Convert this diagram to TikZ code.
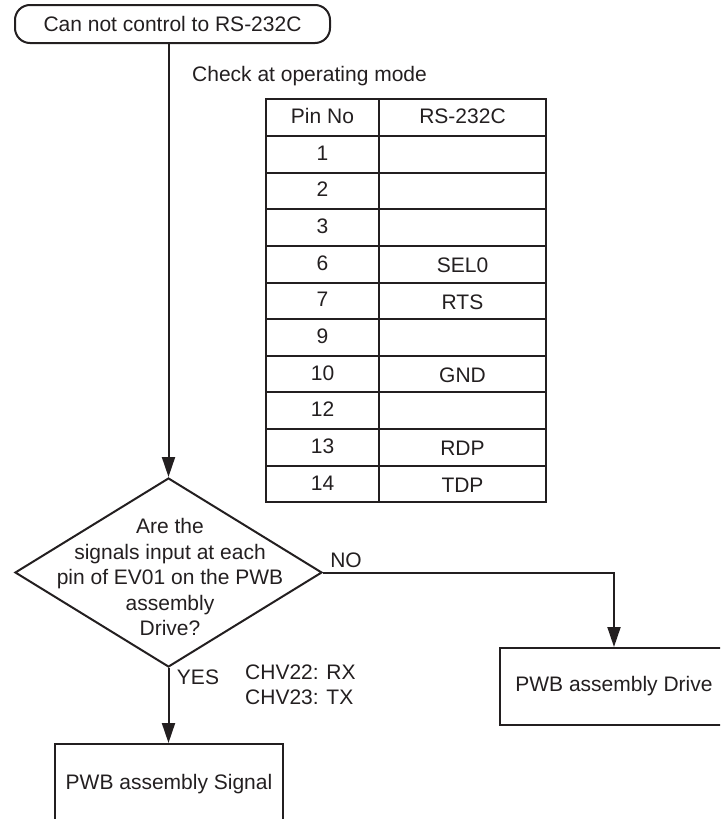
\documentclass[tikz,border=0pt]{standalone}
\usepackage{fontspec}
\setmainfont{Liberation Sans}
\usetikzlibrary{shapes.geometric,arrows.meta}
\definecolor{ink}{HTML}{231F20}
\begin{document}
\begin{tikzpicture}[x=1pt,y=-1pt,
  every node/.style={text=ink, font=\fontsize{21}{25.5}\selectfont},
  line/.style={draw=ink, line width=2pt},
  arr/.style={line, -{Triangle[length=20pt,width=13pt]}},
  startbox/.style={line, rectangle, rounded corners=15pt,
    minimum width=315pt, minimum height=38pt, inner sep=0pt},
  procbox/.style={line, rectangle, minimum width=228pt, inner sep=0pt},
  decision/.style={line, diamond, minimum width=307pt, minimum height=189pt, inner sep=0pt},
  plain/.style={inner sep=0pt},
  cell/.style={inner sep=0pt, anchor=base}
]
\useasboundingbox (0,0) rectangle (720,819);
\clip (0,0) rectangle (720,819);

% start terminal
\node[startbox] (start) at (172.5,24) {Can not control to RS-232C};

% note above the pin table
\node[plain, anchor=base west] (note) at (192,81) {Check at operating mode};

% pin table: grid
\foreach \i in {0,...,11}
  \draw[line] (265,{99.3+36.64*\i}) -- (547,{99.3+36.64*\i});
\foreach \x in {266,379,546}
  \draw[line] (\x,99.3) -- (\x,502.3);

% pin table: contents
\node[cell] (pin0) at (322.5,{117.6+5.5}) {Pin No};
\node[cell] (sig0) at (462.5,{117.6+5.5}) {RS-232C};
\foreach \i/\p/\s in {1/1/,2/2/,3/3/,4/6/SEL0,5/7/RTS,6/9/,7/10/GND,8/12/,9/13/RDP,10/14/TDP}{
  \node[cell] (pin\i) at (322.5,{117.6+36.64*\i+6}) {\p};
  \node[cell] (sig\i) at (462.5,{117.6+36.64*\i+8.5}) {\s};
}

% decision
\node[decision] (dec) at (168.5,572.5) {};
\node[align=center, inner sep=0pt] (dectext) at (170,577)
  {Are the\\signals input at each\\pin of EV01 on the PWB\\assembly\\Drive?};

% outcomes
\node[procbox, minimum height=77pt] (drive) at (614,686.5) {PWB assembly Drive};
\node[procbox, minimum height=80pt] (signal) at (169,784) {PWB assembly Signal};

% branch labels and note
\node[plain] (no) at (346,560) {NO};
\node[plain] (yes) at (198,677) {YES};
\node[plain, anchor=west, align=left] (chv) at (245,685) {CHV22: RX\\CHV23: TX};

% connectors
\draw[arr] (dec.north |- start.south) -- (dec.north);
\draw[arr] (dec.east) -| (drive.north);
\draw[arr] (dec.south) -- (dec.south |- signal.north);
\end{tikzpicture}
\end{document}
